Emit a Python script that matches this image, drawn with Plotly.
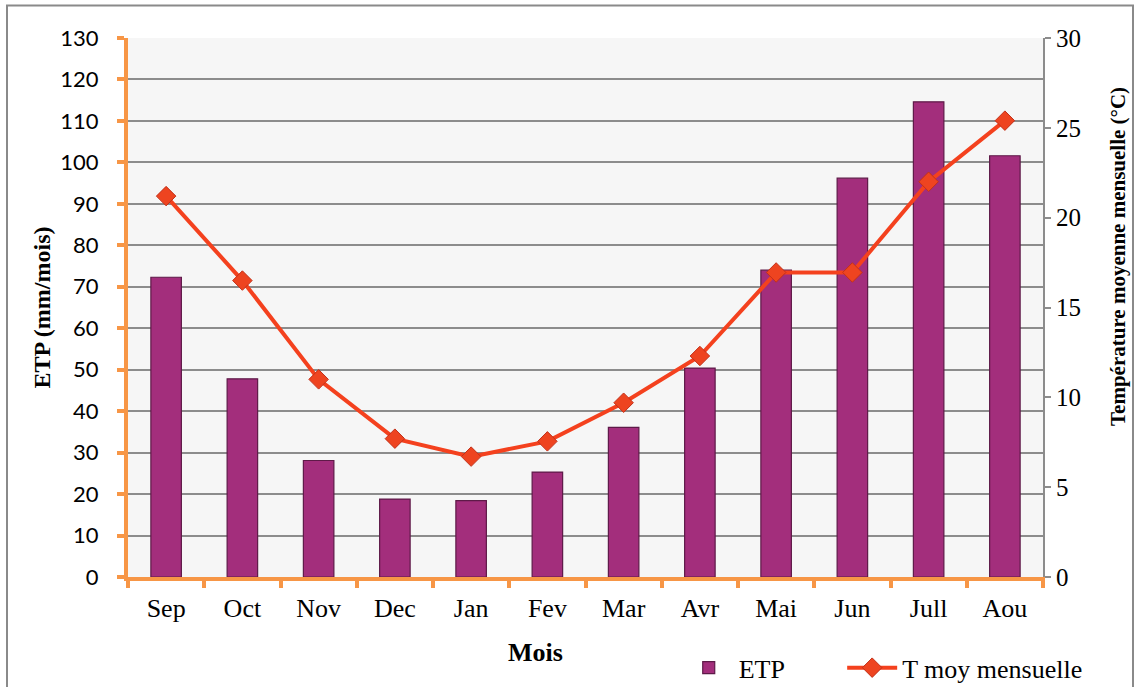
import plotly.graph_objects as go

# données
mois = ["Sep", "Oct", "Nov", "Dec", "Jan", "Fev", "Mar", "Avr", "Mai", "Jun", "Jull", "Aou"]
etp = [72.3, 47.8, 28.1, 18.8, 18.4, 25.3, 36.1, 50.4, 74.0, 96.2, 114.6, 101.6]
t_moy = [21.2, 16.5, 11.0, 7.7, 6.7, 7.55, 9.7, 12.3, 16.95, 16.95, 22.0, 25.4]

etp_ticks = list(range(0, 131, 10))
t_ticks = list(range(0, 31, 5))

serif = "Liberation Serif"
orange = "#F79646"

fig = go.Figure()

fig.add_trace(go.Bar(
    x=mois, y=etp, name="ETP", legend="legend",
    marker=dict(color="#A32E7C", line=dict(color="#5E1A48", width=1.2)),
))

fig.add_trace(go.Scatter(
    x=mois, y=t_moy, name="T moy mensuelle", yaxis="y2", legend="legend2",
    mode="lines+markers",
    line=dict(color="#F4411E", width=4),
    marker=dict(symbol="diamond", size=15, color="#EE4420",
                line=dict(color="#C2311A", width=1)),
))

# légendes en coordonnées "container" pour ne pas pousser les marges
leg_common = dict(
    orientation="h", xref="container", yref="container",
    y=0.028, xanchor="left", yanchor="middle",
    font=dict(family=serif, size=26, color="black"),
    itemwidth=50, bgcolor="rgba(0,0,0,0)",
)

fig.update_layout(
    width=1135, height=687,
    margin=dict(l=128, r=92, t=38, b=110),
    paper_bgcolor="white",
    plot_bgcolor="#F6F6F6",
    bargap=0.6,
    showlegend=True,
    legend=dict(x=0.598, **leg_common),
    legend2=dict(x=0.742, **leg_common),
    xaxis=dict(
        automargin=False,
        range=[-0.5, len(mois) - 0.5],
        showline=True, linecolor=orange, linewidth=4,
        ticks="outside", tickson="boundaries", tickcolor=orange, ticklen=7, tickwidth=4,
        ticklabelstandoff=5,
        tickfont=dict(family=serif, size=26, color="black"),
        showgrid=False,
    ),
    yaxis=dict(
        automargin=False,
        range=[0, 130], tickvals=etp_ticks,
        showline=True, linecolor=orange, linewidth=4,
        ticks="outside", tickcolor=orange, ticklen=7, tickwidth=4,
        ticklabelstandoff=14,
        tickfont=dict(family="Lato", size=22, color="black"),
        showgrid=True, gridcolor="#8C8C8C", gridwidth=1.5,
        zeroline=False,
        title=dict(text="<b>ETP (mm/mois)</b>", font=dict(family=serif, size=24, color="black"), standoff=4),
    ),
    yaxis2=dict(
        automargin=False,
        range=[0, 30], tickvals=t_ticks, overlaying="y", side="right",
        showline=True, linecolor="#8C8C8C", linewidth=2,
        ticks="outside", tickcolor="#8C8C8C", ticklen=6, tickwidth=1.5,
        tickfont=dict(family=serif, size=25, color="black"),
        showgrid=False, zeroline=False,
    ),
)

# titres décalés comme dans l'original
fig.add_annotation(text="<b>Mois</b>", xref="paper", yref="paper",
                   x=(535 - 128) / 915, y=(577 - 652) / 539,
                   xanchor="center", yanchor="middle",
                   showarrow=False, font=dict(family=serif, size=26, color="black"))
fig.add_annotation(text="<b>Température moyenne mensuelle (°C)</b>", xref="paper", yref="paper",
                   x=(1118 - 128) / 915, y=(577 - 257) / 539, textangle=-90,
                   xanchor="center", yanchor="middle",
                   showarrow=False, font=dict(family=serif, size=21, color="black"))

# cadre extérieur
fig.add_shape(type="rect", xref="paper", yref="paper",
              x0=(7 - 128) / 915, x1=(1133 - 128) / 915, y0=-0.3, y1=(577 - 5.5) / 539,
              line=dict(color="#8A8A8A", width=2), layer="below")

fig.write_html("out.html", config={"displayModeBar": False},
               post_script="document.body.style.margin='0';")
